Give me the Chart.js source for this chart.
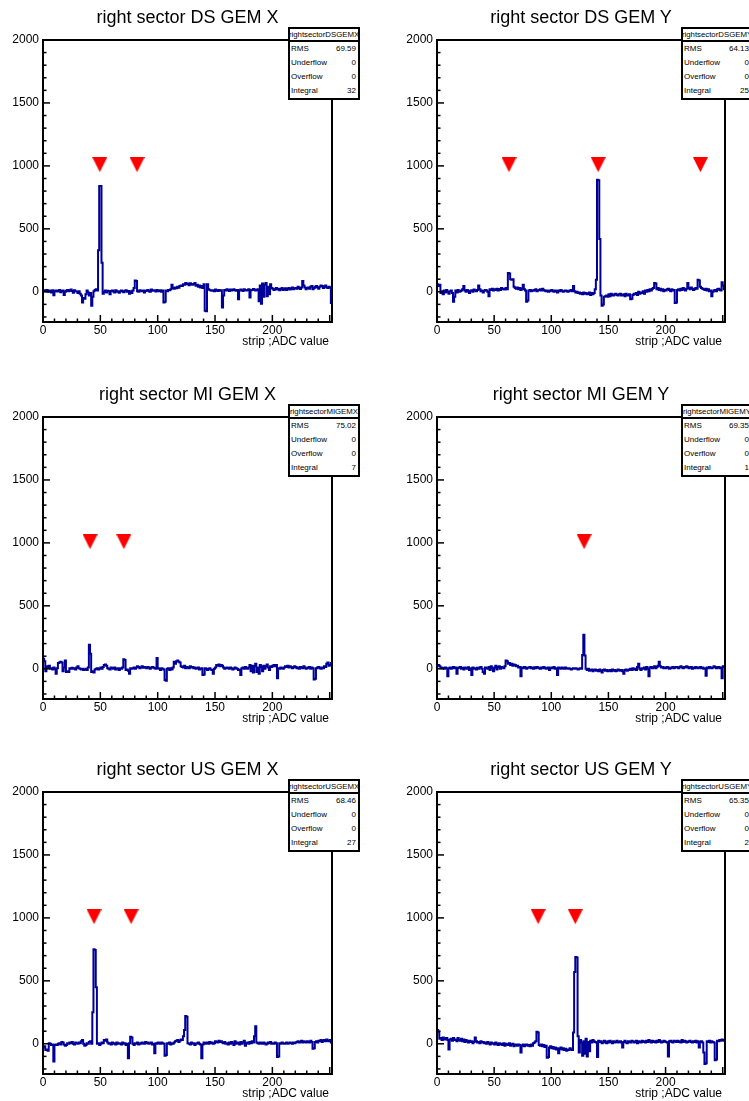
<!DOCTYPE html>
<html>
<head>
<meta charset="utf-8">
<script src="https://cdn.jsdelivr.net/npm/chart.js@4.4.1/dist/chart.umd.min.js"></script>
<style>
  html, body { margin: 0; padding: 0; background: #fff; overflow: hidden; }
  body { width: 749px; height: 1101px; position: relative; font-family: "Liberation Sans", Arial, Helvetica, sans-serif; color: #000; }
  .panel { position: absolute; }
  .panel canvas { position: absolute; left: 0; top: 0; }
  .title { position: absolute; font-size: 18px; white-space: nowrap; transform: translate(-50%, -50%); }
  .xtitle { position: absolute; font-size: 12px; white-space: nowrap; transform: translate(-100%, -50%); }
  .stats { position: absolute; width: 72px; height: 73px; box-sizing: border-box; border: 2px solid #000; background: #fff; font-size: 8px; }
  .stats .hd { height: 11px; line-height: 11px; border-bottom: 2px solid #000; display: flex; justify-content: center; white-space: nowrap; overflow: hidden; font-size: 7.8px; }
  .stats .row { height: 14px; line-height: 14px; display: flex; justify-content: space-between; padding: 0 2px 0 1px; }
</style>
</head>
<body>
<script>
// ---- data ----
const titles = ['right sector DS GEM X', 'right sector DS GEM Y',
                'right sector MI GEM X', 'right sector MI GEM Y',
                'right sector US GEM X', 'right sector US GEM Y'];
const statNames = ['rightsectorDSGEMX', 'rightsectorDSGEMY', 'rightsectorMIGEMX',
                   'rightsectorMIGEMY', 'rightsectorUSGEMX', 'rightsectorUSGEMY'];
const rmsValues = ['69.59', '64.13', '75.02', '69.35', '68.46', '65.35'];
const underflows = ['0', '0', '0', '0', '0', '0'];
const overflows = ['0', '0', '0', '0', '0', '0'];
const integrals = ['32', '25', '7', '1', '27', '2'];

const xTickLabels = [0, 50, 100, 150, 200];
const yTickLabels = [0, 500, 1000, 1500, 2000];
const X_MAX = 252;
const Y_MIN = -240;
const Y_MAX = 2000;
const xAxisTitle = 'strip ;ADC value';

// ADC per strip (one value per bin, bins 0..251)
const dsX = [
  8, 12, 5, 15, 0, 10, 6, -5, 12, -28,
  5, 10, 2, 8, 14, -4, 6, 10, -25, 0,
  8, 15, 4, 10, 18, 6, -8, 12, 5, 2,
  -10, 5, -15, -30, -85, -50, -55, -20, 10, -5,
  -30, -10, -110, -40, 5, 15, 20, 10, 330, 840,
  840, 230, -15, 0, 10, -5, 8, 4, -20, 6,
  10, 2, -6, 12, 0, 5, -8, 4, 10, 2,
  -4, 8, 12, 0, 6, -15, 4, -10, 10, 30,
  90, 85, 5, 0, 12, 8, 4, 10, -5, 6,
  10, 14, 5, 0, 18, 8, 12, 10, 2, 15,
  8, 5, 12, 0, 10, -85, -80, 10, 4, 15,
  12, 20, 55, 30, 25, 35, 28, 40, 32, 45,
  50, 45, 60, 55, 70, 60, 65, 52, 68, 60,
  55, 62, 70, 48, 55, 40, 50, 35, 45, 30,
  60, -150, -155, 60, 20, 15, 10, 8, 12, 5,
  18, 10, 6, 15, 8, 12, -125, -30, 15, 10,
  20, 14, 6, 18, 10, 15, 20, 12, 8, 15,
  -60, 10, 18, 12, 6, 20, 14, 10, 15, 20,
  -45, 12, 15, 22, 18, 10, 14, 20, -75, 50,
  -95, 65, -40, 55, 70, -35, 40, -20, 60, 30,
  25, 15, 20, 30, 18, 25, 12, 22, 30, 15,
  20, 28, 15, 24, 30, 18, 25, 35, 20, 28,
  30, 25, 40, 30, 22, 35, 85, 50, 35, 20,
  30, 35, 25, 40, 45, 20, 30, 40, 45, 35,
  25, 40, 50, 45, 30, 40, 50, 35, 30, 40,
  35, -90
];
const dsY = [
  60, 45, 55, -10, 5, -20, 10, -5, 15, 0,
  -15, 5, 10, -10, -80, -40, 10, -5, 15, 0,
  5, 10, 20, 45, 10, 0, 15, 5, -10, 8,
  12, 0, 18, 10, 5, 15, 50, 20, 5, 10,
  -5, 8, 15, 10, 0, -35, 20, 15, 25, 10,
  20, 15, 25, 10, 22, 15, 30, 20, 25, 18,
  30, 20, 150, 145, 100, 95, 100, 40, 30, 25,
  35, 20, 30, 15, 25, 55, 20, 10, -80, -70,
  10, 15, 5, 12, 8, 15, 20, 5, 10, 15,
  20, 10, 25, 15, 8, 5, 10, 0, 5, 10,
  15, 5, 0, 10, 5, -5, 10, 5, 15, 8,
  0, 5, 10, 8, 0, 5, 10, 15, 5, 45,
  5, -5, 0, -10, -5, -15, -10, -20, -5, -15,
  -10, -20, -15, -5, -25, -10, -20, -10, 20, 95,
  890, 885, 420, -30, -110, -100, -40, -35, -30, -40,
  -20, -35, -15, -25, -30, -20, -15, -25, -30, -20,
  -15, -30, -25, -20, -35, -15, -25, -30, -20, -60,
  -55, -25, -15, -20, -10, -25, 0, -15, -5, -10,
  5, -15, 10, 0, 15, 5, 20, 10, 25, 30,
  70, 65, 20, 30, 15, 25, 10, 20, 5, 15,
  10, 20, 25, 15, 5, 20, 10, 15, -90, -85,
  15, 20, 10, 25, 15, 30, 20, 10, 25, 70,
  30, 20, 35, 25, 15, 20, 30, 25, 95, 90,
  40, 30, 25, 20, 15, 25, 10, 20, 5, 10,
  -35, 0, 10, 15, 5, 20, 25, 15, 10, 75,
  50, 20
];
const miX = [
  80, 60, -20, 20, 10, 25, 0, 5, -5, 10,
  0, -40, 5, 45, 50, 55, 50, -20, 10, 65,
  -25, -20, -25, 5, 0, 8, 0, 5, -5, 10,
  20, 5, 0, -5, 0, -10, -5, 0, -10, 10,
  190, 120, -25, -20, -30, -5, 0, 5, -5, 0,
  10, 0, 15, 30, 35, 25, 5, 0, -5, 10,
  5, 0, 10, -5, 0, 5, -10, 5, 0, 10,
  75, 70, -10, -5, -15, -40, 5, 0, 5, 10,
  0, 10, 20, 15, 5, 10, 20, 8, 15, 10,
  5, 15, 10, 0, 8, 15, 10, 5, 0, 85,
  5, 0, -10, 5, 0, -5, -90, -95, 0, 5,
  -10, 5, -5, 10, 55, 40, 60, 65, 55, 50,
  20, 15, 10, 25, 5, 15, 10, 5, 20, 10,
  15, 5, 10, 0, 5, 10, -5, 0, 5, -50,
  -45, 5, 0, -10, 0, 5, -5, -10, -40, 0,
  10, 30, 25, 35, 20, 30, 25, 10, 0, 5,
  10, 5, 0, 10, 5, -5, 0, 10, 5, 0,
  -10, -5, -50, 5, 10, 0, 15, 5, 0, 10,
  30, -20, 25, -30, 20, 40, -25, 10, -40, 30,
  15, -20, 25, 0, 20, 35, 10, -10, 20, 15,
  25, 30, 20, 30, -75, 5, 0, 10, 5, 0,
  10, 20, 15, 25, 10, 20, 15, 5, 10, 20,
  15, 5, 10, 0, 15, 10, 5, 20, 10, 0,
  5, 10, 15, 0, 10, 5, -85, -80, 5, 10,
  15, 5, 0, 10, 5, 20, 15, 40, 50, 25,
  30, 45
];
const miY = [
  25, 30, 20, 10, 5, 8, 0, 10, 5, -60,
  5, 10, 0, 8, 15, 5, 10, -40, 5, 10,
  15, 0, 8, -5, 10, 5, 0, 12, -10, 5,
  -50, 10, 0, 5, -5, 8, 0, 10, 15, 0,
  -25, -40, 10, 5, 0, 15, -10, 20, 5, -20,
  10, 25, -5, 15, 20, 0, 15, 10, 5, 20,
  65, 60, 40, 45, 30, 40, 25, 35, 30, 20,
  25, 10, 15, -60, 10, 5, 15, 10, 0, 8,
  10, 15, 5, 10, 0, 12, 5, 15, 10, 5,
  0, 10, 5, 15, 8, 0, 5, 10, -10, 5,
  10, 5, 15, 0, 5, -50, 10, 5, 0, 10,
  5, 0, 10, 5, 0, 5, 0, -5, 0, 5,
  0, 5, 0, -5, 0, 5, 0, 110, 270, 105,
  0, -10, 0, -15, -10, -5, -20, -10, -5, -15,
  -10, -20, -5, -15, -30, -10, -5, -15, -10, -20,
  -15, -10, -20, -5, -15, -10, -20, -15, -5, -10,
  -15, -10, -20, -40, -10, -5, -15, -10, -5, 0,
  -10, 5, -5, 0, -10, 15, 40, 0, -10, 5,
  0, 10, -5, 15, 0, -60, 10, 15, 5, 10,
  20, 5, 15, 25, 55, 20, 10, 15, 5, 10,
  5, 15, 10, 0, 5, 10, 15, 5, 10, 15,
  10, 5, 15, 20, 10, 5, 15, 10, 20, 15,
  5, 10, 15, 0, 10, 5, 15, 10, 5, 10,
  15, 5, 10, 0, 5, -55, 10, 5, 15, 10,
  5, 10, 20, 15, 5, 10, 15, 5, 10, -75,
  20, 15
];
const usX = [
  -30, -20, -50, -45, -55, 5, 0, -10, -5, -140,
  -10, -5, -10, 0, 5, -5, 15, 10, -5, -15,
  -10, 5, 0, 10, 5, 15, 0, -5, 10, 5,
  0, 10, 5, 20, 30, 0, -15, -10, 5, 0,
  15, 20, 0, 250, 750, 745, 450, 0, 5, -10,
  0, 10, 5, 30, 25, 35, 10, 0, 5, -5,
  10, 0, 5, -5, 10, 0, 5, 0, -5, 10,
  0, 5, -10, 0, -115, 5, 55, 50, 0, -10,
  5, 0, 10, -5, 5, 0, 10, 5, 0, 15,
  5, 10, 0, 5, 10, -5, 0, -75, 5, 0,
  10, 5, 0, 10, 5, 0, -95, -90, 5, 0,
  10, -5, 5, 0, 10, 20, 25, 30, 15, 25,
  35, 30, 60, 110, 220, 215, 5, 0, -5, 10,
  0, 5, -10, 0, 5, 10, 0, -5, -115, -5,
  10, 0, 5, 10, 0, 15, 5, 10, 0, 5,
  20, 15, 10, 25, 15, 20, 10, 5, 15, 0,
  5, -5, 10, 0, 15, 5, -10, 20, 0, 10,
  5, -5, 15, 0, 10, 25, -15, 5, 10, 0,
  15, 5, 20, 10, 60, 140, 10, 5, 0, 10,
  5, 0, 10, 5, -5, 0, 10, 5, 15, 0,
  5, 0, 10, 5, -105, -100, 5, 0, 10, 5,
  0, 5, 10, 0, 5, 10, 5, 0, 10, 5,
  10, 15, 20, 10, 15, 25, 10, 20, 15, 10,
  20, 15, 10, 25, 15, -40, -35, 15, 20, 10,
  25, 20, 30, 15, 25, 30, 20, 35, 25, 20,
  30, 10
];
const usY = [
  110, 95, 40, 45, 30, 50, 35, 40, 45, 30,
  -45, 35, 40, 25, 45, 30, 35, 20, 45, 30,
  25, 40, 20, 35, 15, 30, 20, 10, 25, 15,
  20, 5, 15, 50, 20, 10, 15, 5, 20, 10,
  15, 5, 10, 0, 15, 5, -5, 10, 0, 5,
  -5, 10, 0, -10, 5, -5, 0, -10, 5, -15,
  0, -5, -10, 5, -15, -5, 0, -20, -10, -5,
  -15, -5, -10, -70, -15, -5, -20, -10, -5, -15,
  -10, -20, -5, -15, 5, 10, 20, 95, 90, -10,
  -15, -5, -20, -10, -25, -15, -110, -105, -30, -20,
  -35, -25, -40, -30, -45, -35, -75, -40, -30, -45,
  -35, -50, -40, -55, -45, -50, -35, -45, -50, 90,
  570, 690, 685, 60, -70, 30, 10, -95, 20, -80,
  40, -100, 15, -60, 25, 10, 30, 20, 15, 10,
  -105, 25, 15, 20, 5, 10, 25, 15, 5, 20,
  10, 25, 15, 5, 20, 10, 15, 25, 10, 15,
  20, 10, -30, 15, 25, 10, 5, 20, 15, 10,
  25, 20, 10, 15, 25, 5, 20, 15, 10, 25,
  15, 20, 10, 25, 15, 30, 20, 10, 25, 15,
  20, 10, 25, 15, 30, 20, 10, 15, 25, 20,
  15, 10, -100, 20, 25, 15, 10, 25, 20, 15,
  25, 15, 20, 10, 30, 15, 25, 20, 10, 15,
  20, 25, 15, 10, 20, 15, 25, 10, 20, -30,
  15, 20, 10, -70, -160, -155, 20, 15, 25, 10,
  20, 15, 10, -130, -125, 25, 20, 30, 25, 35,
  30, 25
];

// red triangle markers (strip positions), all drawn at the same height
const dsXMarks = [49.5, 82];
const dsYMarks = [63, 141, 230.5];
const miXMarks = [41, 70.5];
const miYMarks = [128.7];
const usXMarks = [44.5, 76.8];
const usYMarks = [88.5, 121];
const MARKER_Y = 1010;

const seriesList = [dsX, dsY, miX, miY, usX, usY];
const markList = [dsXMarks, dsYMarks, miXMarks, miYMarks, usXMarks, usYMarks];

// ---- layout ----
const HIST_COLOR = '#000099';
const MARK_COLOR = '#ff0000';
const PANEL_H = 349;
const PLOT_TOP = 40;
const PLOT_BOTTOM = 322;
const Y_AXIS_W = 43;
const cols = [{ left: 0, width: 370, padRight: 38 }, { left: 394, width: 355, padRight: 24 }];
const rowTops = [0, 377, 752];

Chart.defaults.font.family = '"Liberation Sans", Arial, Helvetica, sans-serif';
Chart.defaults.font.size = 12;
Chart.defaults.color = '#000';

// downward red triangle, ROOT marker style
const tri = document.createElement('canvas');
tri.width = 15; tri.height = 15;
(function () {
  const c = tri.getContext('2d');
  c.fillStyle = MARK_COLOR;
  c.beginPath(); c.moveTo(0, 0); c.lineTo(15, 0); c.lineTo(7.5, 15); c.closePath(); c.fill();
})();

// frame box + ticks pointing into the plot, ROOT style
const rootFrame = {
  id: 'rootFrame',
  afterDraw(chart) {
    const { ctx, chartArea: a, scales: { x, y } } = chart;
    ctx.save();
    ctx.strokeStyle = '#000';
    ctx.lineWidth = 1.5;
    x.ticks.forEach(t => {
      if (t.value < x.min || t.value > x.max) return;
      const px = x.getPixelForValue(t.value);
      const len = t.value % 50 === 0 ? 7 : 3.5;
      ctx.beginPath(); ctx.moveTo(px, a.bottom); ctx.lineTo(px, a.bottom - len); ctx.stroke();
    });
    y.ticks.forEach(t => {
      if (t.value < y.min || t.value > y.max) return;
      const py = y.getPixelForValue(t.value);
      const len = t.value % 500 === 0 ? 7 : 3.5;
      ctx.beginPath(); ctx.moveTo(a.left, py); ctx.lineTo(a.left + len, py); ctx.stroke();
    });
    ctx.lineWidth = 2;
    ctx.strokeRect(a.left, a.top, a.right - a.left, a.bottom - a.top);
    ctx.restore();
  }
};

function addDiv(parent, cls, text, left, top) {
  const d = document.createElement('div');
  d.className = cls;
  if (text !== null) d.textContent = text;
  d.style.left = left + 'px';
  d.style.top = top + 'px';
  parent.appendChild(d);
  return d;
}

function statsBox(parent, i, left, top) {
  const box = addDiv(parent, 'stats', null, left, top);
  const hd = document.createElement('div');
  hd.className = 'hd';
  const hs = document.createElement('span');
  hs.textContent = statNames[i];
  hd.appendChild(hs);
  box.appendChild(hd);
  [['RMS', rmsValues[i]], ['Underflow', underflows[i]], ['Overflow', overflows[i]], ['Integral', integrals[i]]]
    .forEach(([k, v]) => {
      const r = document.createElement('div');
      r.className = 'row';
      r.innerHTML = '<span></span><span></span>';
      r.children[0].textContent = k;
      r.children[1].textContent = v;
      box.appendChild(r);
    });
}

seriesList.forEach((values, i) => {
  const col = cols[i % 2];
  const top = rowTops[Math.floor(i / 2)];
  const plotRight = col.width - col.padRight;

  const panel = document.createElement('div');
  panel.className = 'panel';
  panel.style.left = col.left + 'px';
  panel.style.top = top + 'px';
  panel.style.width = col.width + 'px';
  panel.style.height = PANEL_H + 'px';
  document.body.appendChild(panel);

  const canvas = document.createElement('canvas');
  canvas.width = col.width;
  canvas.height = PANEL_H;
  panel.appendChild(canvas);

  // histogram outline: one point per bin low edge, plus closing edge
  const hist = values.map((v, b) => ({ x: b, y: v }));
  hist.push({ x: values.length, y: values[values.length - 1] });
  const marks = markList[i].map(m => ({ x: m, y: MARKER_Y }));

  new Chart(canvas, {
    type: 'line',
    data: {
      datasets: [
        { data: marks, showLine: false, pointStyle: tri, pointRadius: 7, pointHoverRadius: 7 },
        { data: hist, stepped: 'before', borderColor: HIST_COLOR, borderWidth: 2, pointRadius: 0,
          fill: false, borderJoinStyle: 'miter', borderCapStyle: 'butt' }
      ]
    },
    options: {
      responsive: false,
      animation: false,
      events: [],
      layout: { padding: { top: PLOT_TOP, right: col.padRight, bottom: PANEL_H - PLOT_BOTTOM - 20, left: 0 } },
      plugins: { legend: { display: false }, tooltip: { enabled: false }, title: { display: false } },
      scales: {
        x: {
          type: 'linear', min: 0, max: X_MAX,
          grid: { display: false, drawTicks: false },
          border: { display: false },
          ticks: { stepSize: 10, autoSkip: false, maxRotation: 0, includeBounds: false, padding: 1,
                   callback: v => xTickLabels.includes(v) ? String(v) : '' },
          afterFit: s => { s.height = 20; }
        },
        y: {
          type: 'linear', min: Y_MIN, max: Y_MAX,
          grid: { display: false, drawTicks: false },
          border: { display: false },
          ticks: { stepSize: 100, autoSkip: false, includeBounds: false, padding: 4,
                   callback: v => yTickLabels.includes(v) ? String(v) : '' },
          afterFit: s => { s.width = Y_AXIS_W; }
        }
      }
    },
    plugins: [rootFrame]
  });

  addDiv(panel, 'title', titles[i], (Y_AXIS_W + plotRight) / 2, 16.5);
  addDiv(panel, 'xtitle', xAxisTitle, plotRight - 3, PLOT_BOTTOM + 19);
  statsBox(panel, i, plotRight - 44, PLOT_TOP - 13.5);
});
</script>
</body>
</html>
